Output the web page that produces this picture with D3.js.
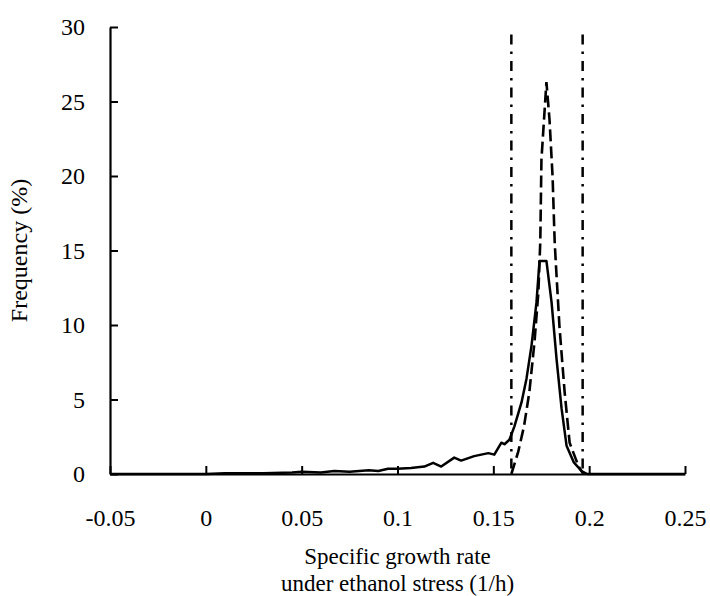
<!DOCTYPE html>
<html>
<head>
<meta charset="utf-8">
<script src="https://cdn.jsdelivr.net/npm/d3@7"></script>
<style>
  body { margin: 0; background: #fff; }
</style>
</head>
<body>
<div id="chart"></div>
<script>
'use strict';

// growth rate (1/h) and frequency (%)
const solidRate = [-0.05, 0.0, 0.01, 0.03, 0.045, 0.05, 0.06, 0.067, 0.075, 0.085, 0.09, 0.095, 0.1, 0.107,
    0.114, 0.1186, 0.1228, 0.1296, 0.1332, 0.14, 0.1474, 0.1505, 0.1542, 0.1558, 0.1584, 0.161, 0.1647,
    0.1673, 0.1699, 0.1725, 0.1741, 0.1777, 0.1804, 0.183, 0.1856, 0.1882, 0.1919, 0.196, 0.199, 0.25];
const solidFreq = [0, 0, 0.05, 0.05, 0.1, 0.15, 0.1, 0.2, 0.15, 0.25, 0.2, 0.35, 0.35, 0.4,
    0.5, 0.75, 0.5, 1.1, 0.9, 1.2, 1.4, 1.3, 2.1, 2.0, 2.3, 3.2, 4.8,
    6.4, 8.6, 11.5, 14.3, 14.3, 11.5, 7.7, 4.4, 1.9, 0.8, 0.2, 0, 0];

const dashedRate = [0.1594, 0.163, 0.166, 0.1688, 0.1715, 0.1735, 0.1745, 0.1751, 0.1777, 0.1793,
    0.1809, 0.182, 0.1825, 0.1845, 0.1872, 0.1898, 0.1945, 0.197];
const dashedFreq = [0, 1.5, 3.2, 5.5, 8.9, 12.2, 15.6, 21.1, 26.3, 23.8,
    20, 15.6, 14.4, 9.9, 5.5, 2.1, 0.5, 0];

const boundRate = [0.1594, 0.1966];
const boundTop = 29.5;

const xTicks = [-0.05, 0, 0.05, 0.1, 0.15, 0.2, 0.25];
const yTicks = [0, 5, 10, 15, 20, 25, 30];

const width = 710, height = 596;
const plotLeft = 110, plotRight = 685, plotTop = 27, plotBottom = 474;
const serif = "'Liberation Serif', 'Times New Roman', Times, 'DejaVu Serif', serif";

const x = d3.scaleLinear().domain([-0.05, 0.25]).range([plotLeft, plotRight]);
const y = d3.scaleLinear().domain([0, 30]).range([plotBottom, plotTop]);

const svg = d3.select('#chart').append('svg')
    .attr('width', width)
    .attr('height', height)
    .style('font-family', serif);

const line = d3.line()
    .x(function(d) { return x(d[0]); })
    .y(function(d) { return y(d[1]); });

// vertical dash-dot limits
svg.append('g')
    .selectAll('line')
    .data(boundRate)
    .enter()
        .append('line')
        .attr('x1', function(d) { return x(d); })
        .attr('x2', function(d) { return x(d); })
        .attr('y1', y(boundTop))
        .attr('y2', y(0))
        .attr('stroke', '#000')
        .attr('stroke-width', 2.5)
        .attr('stroke-dasharray', '10,7,2.5,7');

svg.append('path')
    .datum(d3.zip(dashedRate, dashedFreq))
    .attr('d', line)
    .attr('fill', 'none')
    .attr('stroke', '#000')
    .attr('stroke-width', 2.6)
    .attr('stroke-dasharray', '12,5');

svg.append('path')
    .datum(d3.zip(solidRate, solidFreq))
    .attr('d', line)
    .attr('fill', 'none')
    .attr('stroke', '#000')
    .attr('stroke-width', 2.5)
    .attr('stroke-linejoin', 'round');

const xAxis = svg.append('g')
    .attr('transform', 'translate(0,' + plotBottom + ')')
    .call(d3.axisBottom(x).tickValues(xTicks).tickSizeInner(-8).tickSizeOuter(0).tickPadding(35)
        .tickFormat(function(d) { return String(d); }));

const yAxis = svg.append('g')
    .attr('transform', 'translate(' + plotLeft + ',0)')
    .call(d3.axisLeft(y).tickValues(yTicks).tickSizeInner(-8).tickSizeOuter(0).tickPadding(25));

[xAxis, yAxis].forEach(function(g) {
    g.attr('font-family', null).attr('font-size', null);
    g.select('.domain').attr('stroke-width', 2.2);
    g.selectAll('.tick line').attr('stroke-width', 2);
    g.selectAll('.tick text').style('font-size', '24px').style('font-family', serif);
});

svg.append('text')
    .attr('transform', 'translate(27,' + (plotTop + plotBottom) / 2 + ') rotate(-90)')
    .attr('text-anchor', 'middle')
    .style('font-size', '24px')
    .text('Frequency (%)');

svg.append('text')
    .attr('x', (plotLeft + plotRight) / 2)
    .attr('y', 564)
    .attr('text-anchor', 'middle')
    .style('font-size', '23px')
    .text('Specific growth rate');

svg.append('text')
    .attr('x', (plotLeft + plotRight) / 2)
    .attr('y', 591)
    .attr('text-anchor', 'middle')
    .style('font-size', '23px')
    .text('under ethanol stress (1/h)');
</script>
</body>
</html>
